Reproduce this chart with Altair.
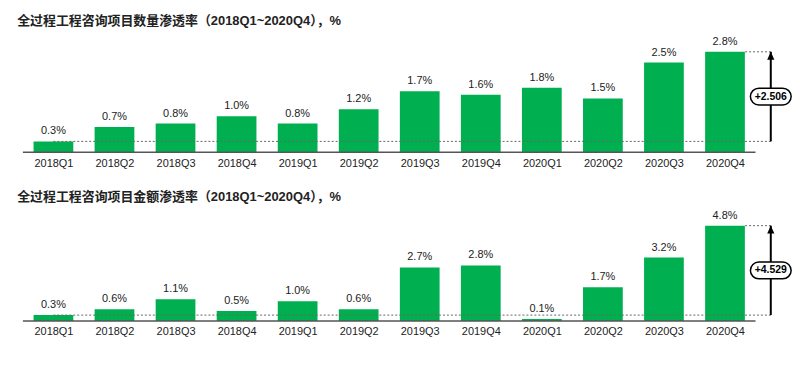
import json
import altair as alt
import pandas as pd

quarters = ["2018Q1", "2018Q2", "2018Q3", "2018Q4", "2019Q1", "2019Q2",
            "2019Q3", "2019Q4", "2020Q1", "2020Q2", "2020Q3", "2020Q4"]
count_rate = [0.3, 0.7, 0.8, 1.0, 0.8, 1.2, 1.7, 1.6, 1.8, 1.5, 2.5, 2.8]
amount_rate = [0.3, 0.6, 1.1, 0.5, 1.0, 0.6, 2.7, 2.8, 0.1, 1.7, 3.2, 4.8]
count_delta = "+2.506"
amount_delta = "+4.529"
count_title = "全过程工程咨询项目数量渗透率（2018Q1~2020Q4），%"
amount_title = "全过程工程咨询项目金额渗透率（2018Q1~2020Q4），%"

GREEN = "#00B050"
FONT = "Liberation Sans, Noto Sans CJK SC, sans-serif"
ARROW_X = 11.75
X_DOMAIN = [-0.5, 12.0]
PX_PER_CAT = 61.45
WIDTH = round((X_DOMAIN[1] - X_DOMAIN[0]) * PX_PER_CAT)
ELL_W, ELL_H = 41, 17
HEAD = "M0,0L-0.45,1L0.45,1Z"

x_axis = alt.Axis(values=list(range(len(quarters))),
                  labelExpr=json.dumps(quarters) + "[datum.value]",
                  domain=False, ticks=False, grid=False, title=None,
                  labelFontSize=11, labelColor="#222", labelPadding=5,
                  labelFont=FONT)


def panel(values, title, delta, ymax, px_per_unit):
    yscale = alt.Scale(domain=[0, ymax], nice=False, zero=True, padding=0)
    xscale = alt.Scale(domain=X_DOMAIN, nice=False, zero=False, padding=0)
    df = pd.DataFrame({"idx": list(range(len(values))), "q": quarters,
                       "v": values, "label": [f"{v:.1f}%" for v in values]})
    base_df = pd.DataFrame({"x": [X_DOMAIN[0]], "x2": [len(values) - 0.5], "y": [0]})
    dots_df = pd.DataFrame({"x": [0, len(values) - 1 + 0.33],
                            "x2": [ARROW_X, ARROW_X],
                            "y": [values[0], values[-1]]})
    ym = (values[0] + values[-1]) / 2
    hw = ELL_W / 2 / PX_PER_CAT
    hh = ELL_H / 2 / px_per_unit
    arrow_df = pd.DataFrame({"x": [ARROW_X], "y": [values[0]], "y2": [values[-1]],
                             "ym": [ym], "t": [delta],
                             "ex": [ARROW_X - hw], "ex2": [ARROW_X + hw],
                             "ey": [ym - hh], "ey2": [ym + hh]})

    X = lambda f: alt.X(f, scale=xscale, axis=x_axis)
    Y = lambda f: alt.Y(f, scale=yscale, axis=None)

    bars = alt.Chart(df).mark_bar(size=40, color=GREEN).encode(x=X("idx:Q"), y=Y("v:Q"))
    labels = alt.Chart(df).mark_text(baseline="bottom", dy=-5, fontSize=11,
                                     color="#222", font=FONT).encode(
        x=X("idx:Q"), y=Y("v:Q"), text="label:N")
    baseline = alt.Chart(base_df).mark_rule(color="#555", strokeWidth=1.5).encode(
        x=X("x:Q"), x2="x2:Q", y=Y("y:Q"))
    dots = alt.Chart(dots_df).mark_rule(color="#666", strokeWidth=1,
                                        strokeDash=[2, 2]).encode(
        x=X("x:Q"), x2="x2:Q", y=Y("y:Q"))
    shaft = alt.Chart(arrow_df).mark_rule(color="black", strokeWidth=2).encode(
        x=X("x:Q"), y=Y("y:Q"), y2="y2:Q")
    head = alt.Chart(arrow_df).mark_point(shape=HEAD, size=256, filled=True,
                                          color="black", opacity=1).encode(
        x=X("x:Q"), y=Y("y2:Q"))
    ellipse = alt.Chart(arrow_df).mark_rect(cornerRadius=ELL_H / 2, fill="white",
                                            stroke="black", strokeWidth=1.5).encode(
        x=X("ex:Q"), x2="ex2:Q", y=Y("ey:Q"), y2="ey2:Q")
    etext = alt.Chart(arrow_df).mark_text(fontSize=10.5, fontWeight="bold",
                                          color="black", font=FONT).encode(
        x=X("x:Q"), y=Y("ym:Q"), text="t:N")

    return alt.layer(bars, baseline, dots, labels, shaft, head, ellipse, etext).properties(
        width=WIDTH, height=round(ymax * px_per_unit),
        title=alt.TitleParams(title, anchor="start", fontSize=13, font=FONT,
                              fontWeight="bold", color="#222", offset=6, dx=-5))


top = panel(count_rate, count_title, count_delta, 3.3, 36)
bottom = panel(amount_rate, amount_title, amount_delta, 5.5, 20)

chart = alt.vconcat(top, bottom, spacing=23).properties(
    padding={"left": 9, "top": 6, "right": 0, "bottom": 0},
    background="white",
).configure_view(stroke=None)

chart.save("out.html", embed_options={"renderer": "svg", "actions": False})
